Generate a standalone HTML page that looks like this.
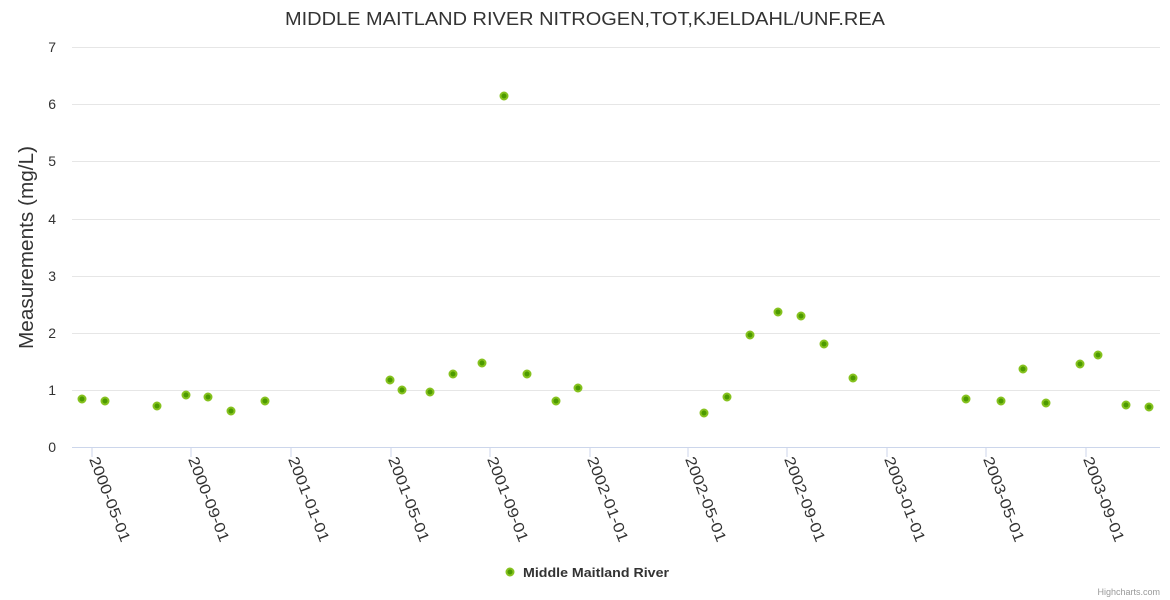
<!DOCTYPE html>
<html><head><meta charset="utf-8"><style>body{margin:0;background:#fff}svg{display:block;font-family:"Liberation Sans",sans-serif}</style></head><body>
<svg width="1170" height="600" xmlns="http://www.w3.org/2000/svg">
<text x="285" y="25" font-size="18" fill="#333" textLength="600" lengthAdjust="spacingAndGlyphs">MIDDLE MAITLAND RIVER NITROGEN,TOT,KJELDAHL/UNF.REA</text>
<g stroke="#e6e6e6" stroke-width="1">
<line x1="72" x2="1160" y1="47.5" y2="47.5"/><line x1="72" x2="1160" y1="104.5" y2="104.5"/><line x1="72" x2="1160" y1="161.5" y2="161.5"/><line x1="72" x2="1160" y1="219.5" y2="219.5"/><line x1="72" x2="1160" y1="276.5" y2="276.5"/><line x1="72" x2="1160" y1="333.5" y2="333.5"/><line x1="72" x2="1160" y1="390.5" y2="390.5"/>
</g>
<line x1="72" x2="1160" y1="447.5" y2="447.5" stroke="#ccd6eb"/>
<g font-size="14" fill="#333" text-anchor="end">
<text x="56" y="52">7</text><text x="56" y="109">6</text><text x="56" y="166">5</text><text x="56" y="224">4</text><text x="56" y="281">3</text><text x="56" y="338">2</text><text x="56" y="395">1</text><text x="56" y="452">0</text>
</g>
<text transform="translate(33,248) rotate(-90)" x="-101" font-size="20" fill="#333" textLength="203" lengthAdjust="spacingAndGlyphs">Measurements (mg/L)</text>
<g stroke="#ccd6eb">
<line x1="92" x2="92" y1="447" y2="457"/><line x1="191" x2="191" y1="447" y2="457"/><line x1="291" x2="291" y1="447" y2="457"/><line x1="391" x2="391" y1="447" y2="457"/><line x1="490" x2="490" y1="447" y2="457"/><line x1="590" x2="590" y1="447" y2="457"/><line x1="688" x2="688" y1="447" y2="457"/><line x1="787" x2="787" y1="447" y2="457"/><line x1="887" x2="887" y1="447" y2="457"/><line x1="986" x2="986" y1="447" y2="457"/><line x1="1086" x2="1086" y1="447" y2="457"/>
</g>
<g font-size="15" fill="#333">
<text transform="translate(89,459) rotate(69)" textLength="90" lengthAdjust="spacingAndGlyphs">2000-05-01</text>
<text transform="translate(188,459) rotate(69)" textLength="90" lengthAdjust="spacingAndGlyphs">2000-09-01</text>
<text transform="translate(288,459) rotate(69)" textLength="90" lengthAdjust="spacingAndGlyphs">2001-01-01</text>
<text transform="translate(388,459) rotate(69)" textLength="90" lengthAdjust="spacingAndGlyphs">2001-05-01</text>
<text transform="translate(487,459) rotate(69)" textLength="90" lengthAdjust="spacingAndGlyphs">2001-09-01</text>
<text transform="translate(587,459) rotate(69)" textLength="90" lengthAdjust="spacingAndGlyphs">2002-01-01</text>
<text transform="translate(685,459) rotate(69)" textLength="90" lengthAdjust="spacingAndGlyphs">2002-05-01</text>
<text transform="translate(784,459) rotate(69)" textLength="90" lengthAdjust="spacingAndGlyphs">2002-09-01</text>
<text transform="translate(884,459) rotate(69)" textLength="90" lengthAdjust="spacingAndGlyphs">2003-01-01</text>
<text transform="translate(983,459) rotate(69)" textLength="90" lengthAdjust="spacingAndGlyphs">2003-05-01</text>
<text transform="translate(1083,459) rotate(69)" textLength="90" lengthAdjust="spacingAndGlyphs">2003-09-01</text>
</g>
<g fill="#4c9a00" stroke="#86c21f" stroke-width="2">
<circle cx="82" cy="399" r="3.5"/><circle cx="105" cy="401" r="3.5"/><circle cx="157" cy="406" r="3.5"/><circle cx="186" cy="395" r="3.5"/><circle cx="208" cy="397" r="3.5"/><circle cx="231" cy="411" r="3.5"/><circle cx="265" cy="401" r="3.5"/><circle cx="390" cy="380" r="3.5"/><circle cx="402" cy="390" r="3.5"/><circle cx="430" cy="392" r="3.5"/><circle cx="453" cy="374" r="3.5"/><circle cx="482" cy="363" r="3.5"/><circle cx="504" cy="96" r="3.5"/><circle cx="527" cy="374" r="3.5"/><circle cx="556" cy="401" r="3.5"/><circle cx="578" cy="388" r="3.5"/><circle cx="704" cy="413" r="3.5"/><circle cx="727" cy="397" r="3.5"/><circle cx="750" cy="335" r="3.5"/><circle cx="778" cy="312" r="3.5"/><circle cx="801" cy="316" r="3.5"/><circle cx="824" cy="344" r="3.5"/><circle cx="853" cy="378" r="3.5"/><circle cx="966" cy="399" r="3.5"/><circle cx="1001" cy="401" r="3.5"/><circle cx="1023" cy="369" r="3.5"/><circle cx="1046" cy="403" r="3.5"/><circle cx="1080" cy="364" r="3.5"/><circle cx="1098" cy="355" r="3.5"/><circle cx="1126" cy="405" r="3.5"/><circle cx="1149" cy="407" r="3.5"/>
<circle cx="510" cy="572" r="3.5"/>
</g>
<text x="523" y="577" font-size="13" font-weight="bold" fill="#333" textLength="146" lengthAdjust="spacingAndGlyphs">Middle Maitland River</text>
<text x="1160" y="595" font-size="9" fill="#999" text-anchor="end">Highcharts.com</text>
</svg>
</body></html>
